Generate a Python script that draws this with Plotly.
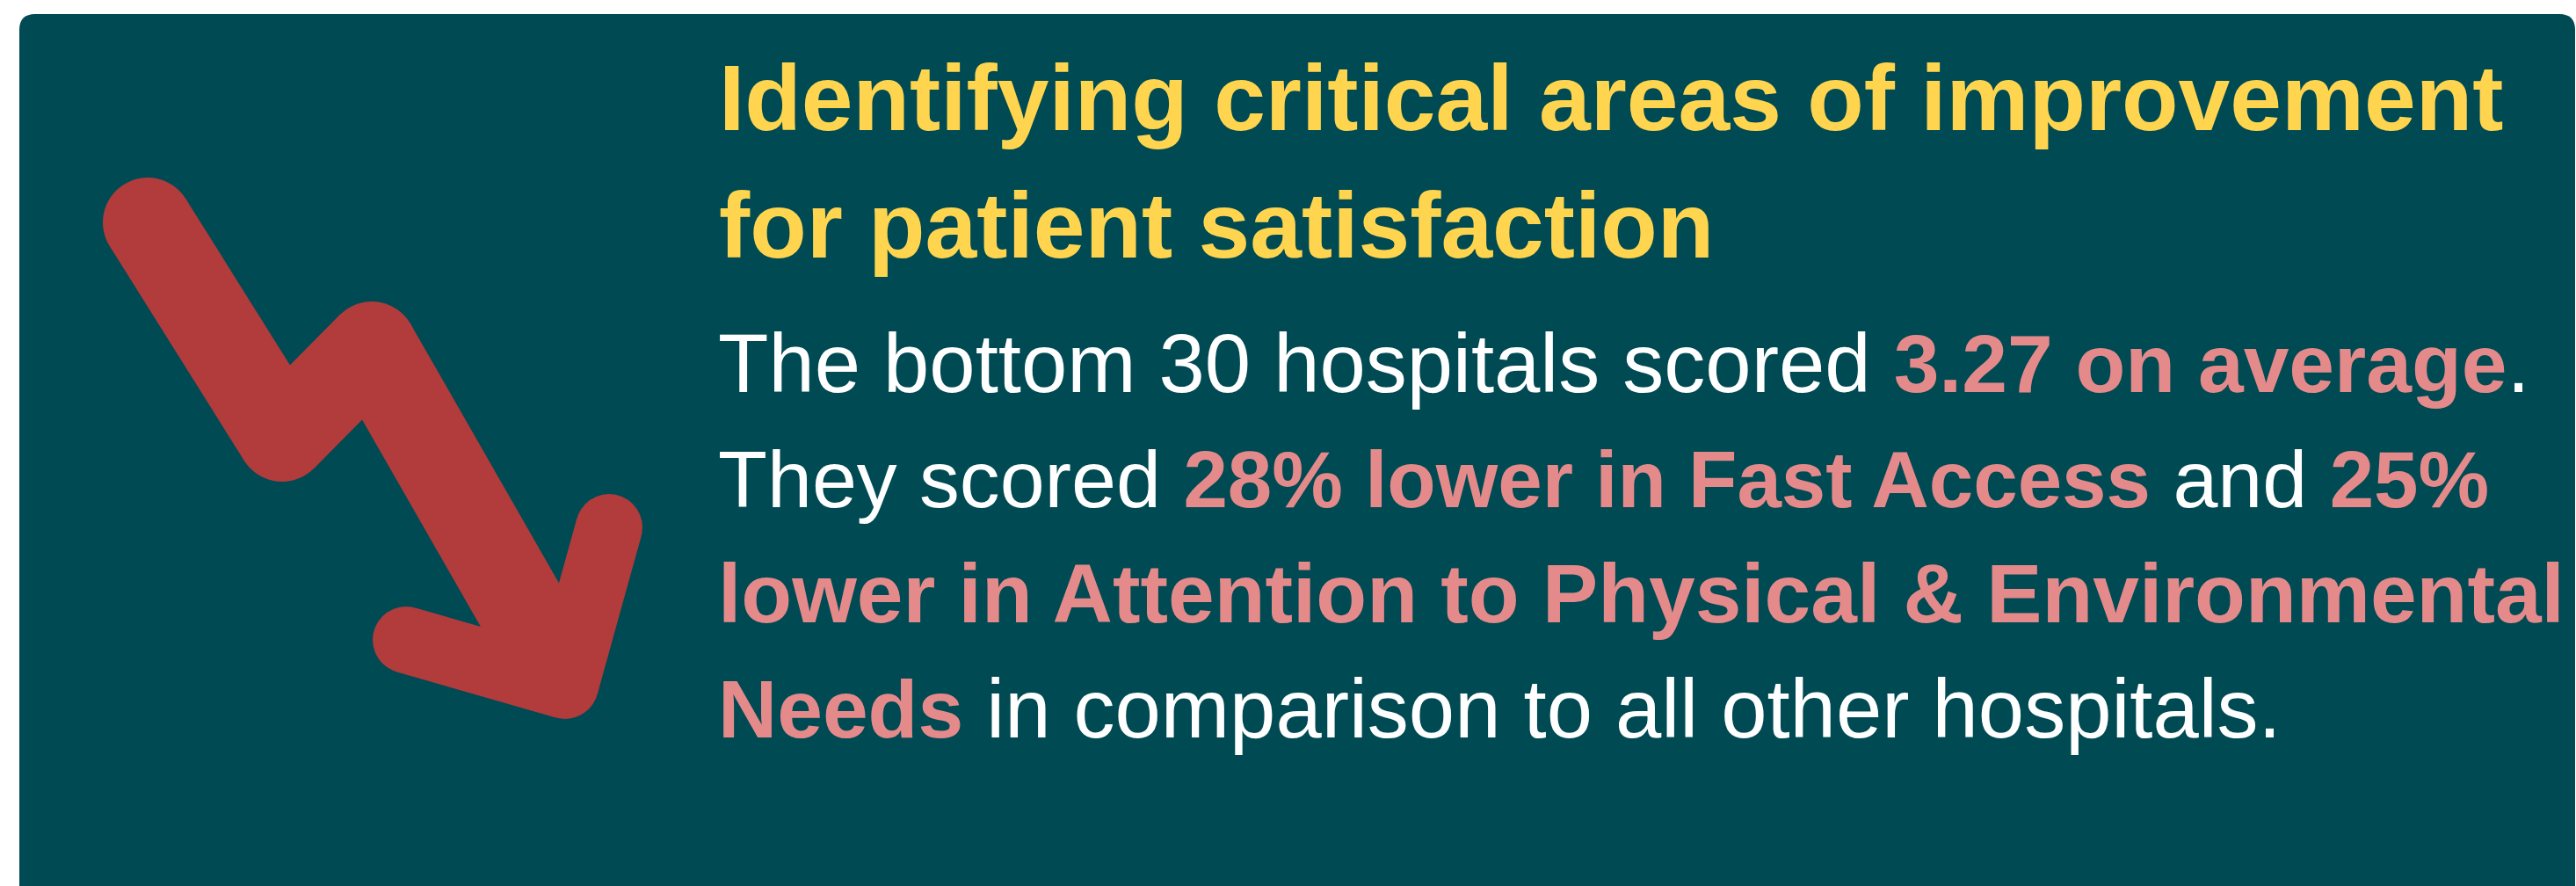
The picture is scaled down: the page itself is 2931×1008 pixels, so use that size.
import plotly.graph_objects as go

W, H = 2931, 1008

# ---- content ----
TEAL = "#004A53"
RED = "#B23B3C"
YELLOW = "#FFD54F"
PINK = "#E58A8A"
WHITE = "#FFFFFF"

# arrow icon polylines (pixel units)
shaft_x = [168, 321, 423, 628]
shaft_y = [253, 497, 394, 752]
head_x = [693, 643, 462]
head_y = [600, 780, 728]

title_lines = [
    "Identifying critical areas of improvement",
    "for patient satisfaction",
]
title_baselines = [148, 293]

# body lines as (text, highlighted?) pieces
body_pieces = [
    [("The bottom 30 hospitals scored ", False), ("3.27 on average", True), (".", False)],
    [("They scored ", False), ("28% lower in Fast Access", True), (" and ", False), ("25%", True)],
    [("lower in Attention to Physical &amp; Environmental", True)],
    [("Needs", True), (" in comparison to all other hospitals.", False)],
]
body_baselines = [446, 577, 708, 839]
# (regular size, bold size) per line
body_sizes = [(94, 93), (91.6, 90.7), (94, 94.7), (94, 93)]

TITLE_SIZE = 105.6
TEXT_X = 818
FONT = "Liberation Sans"


def build_line(pieces, sizes):
    reg, bold = sizes
    out = ""
    for t, hi in pieces:
        if hi:
            out += f"<span style='color:{PINK}; font-size:{bold}px'><b>{t}</b></span>"
        else:
            out += f"<span style='font-size:{reg}px'>{t}</span>"
    return out


def segments(xs, ys):
    """Split a polyline into separate segments so joins are rounded by markers."""
    sx, sy = [], []
    for i in range(len(xs) - 1):
        sx += [xs[i], xs[i + 1], None]
        sy += [ys[i], ys[i + 1], None]
    return sx, sy


fig = go.Figure()

for xs, ys, w in [(shaft_x, shaft_y, 102), (head_x, head_y, 76)]:
    sx, sy = segments(xs, ys)
    fig.add_trace(go.Scatter(
        x=sx, y=sy, mode="lines", connectgaps=False,
        line=dict(color=RED, width=w),
        hoverinfo="skip", showlegend=False,
    ))
    fig.add_trace(go.Scatter(
        x=xs, y=ys, mode="markers",
        marker=dict(color=RED, size=w, line=dict(width=0)),
        hoverinfo="skip", showlegend=False,
    ))

# card background
r = 18
x0, x1, y0, y1 = 22, 2930, 16, 1030
card_path = (f"M {x0+r},{y0} L {x1-r},{y0} Q {x1},{y0} {x1},{y0+r} "
             f"L {x1},{y1-r} Q {x1},{y1} {x1-r},{y1} L {x0+r},{y1} "
             f"Q {x0},{y1} {x0},{y1-r} L {x0},{y0+r} Q {x0},{y0} {x0+r},{y0} Z")
fig.add_shape(type="path", path=card_path, xref="x", yref="y",
              fillcolor=TEAL, line=dict(width=0), layer="below")

annotations = []
for t, b in zip(title_lines, title_baselines):
    annotations.append(dict(
        x=TEXT_X, y=b - 0.3465 * TITLE_SIZE, xref="x", yref="y",
        xanchor="left", yanchor="middle", showarrow=False,
        text=f"<b>{t}</b>", align="left", borderpad=0, borderwidth=0,
        font=dict(family=FONT, size=TITLE_SIZE, color=YELLOW),
    ))
for pieces, b, sz in zip(body_pieces, body_baselines, body_sizes):
    base = max(sz)
    annotations.append(dict(
        x=TEXT_X - 1, y=b - 0.3465 * base, xref="x", yref="y",
        xanchor="left", yanchor="middle", showarrow=False,
        text=build_line(pieces, sz), align="left", borderpad=0, borderwidth=0,
        font=dict(family=FONT, size=base, color=WHITE),
    ))

fig.update_layout(
    width=W, height=H,
    margin=dict(l=0, r=0, t=0, b=0, pad=0),
    paper_bgcolor="white", plot_bgcolor="white",
    xaxis=dict(range=[0, W], visible=False, fixedrange=True),
    yaxis=dict(range=[H, 0], visible=False, fixedrange=True),
    annotations=annotations,
    showlegend=False,
)

fig.write_html("out.html", config={"displayModeBar": False, "staticPlot": True},
               post_script="document.body.style.margin='0';")
